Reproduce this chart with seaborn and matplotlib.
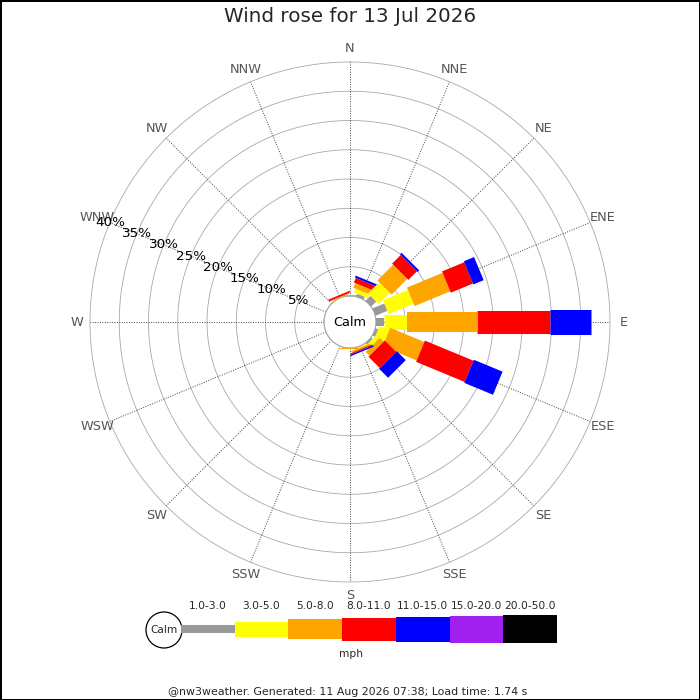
import numpy as np
import matplotlib
matplotlib.use("Agg")
import matplotlib.pyplot as plt
from matplotlib.patches import Circle
import seaborn as sns

# wind rose data: % of time per direction and speed class (mph)
directions = ['N', 'NNE', 'NE', 'ENE', 'E', 'ESE', 'SE', 'SSE',
              'S', 'SSW', 'SW', 'WSW', 'W', 'WNW', 'NW', 'NNW']
speed_bins = ['1.0-3.0', '3.0-5.0', '5.0-8.0', '8.0-11.0', '11.0-15.0', '15.0-20.0', '20.0-50.0']
bin_colors = ['#999999', '#ffff00', '#ffa500', '#ff0000', '#0000ff', '#a020f0', '#000000']
bin_width_px = [8, 15, 20, 23, 25, 27, 28]

pct_1_3 = [0.0, 0.5, 1.2, 2.2, 1.4, 0.5, 0.35, 0.1, 0.0, 0, 0, 0, 0, 0, 0, 0.0]
pct_3_5 = [0.05, 0.7, 2.7, 4.6, 3.9, 1.8, 0.7, 0.15, 0.05, 0, 0, 0, 0, 0, 0, 0.05]
pct_5_8 = [0.2, 0.85, 3.8, 6.6, 12.0, 6.3, 0.95, 0.3, 0.15, 0, 0, 0, 0, 0, 0, 0.15]
pct_8_11 = [0.0, 0.85, 2.1, 4.1, 12.5, 9.0, 2.75, 0.2, 0.0, 0, 0, 0, 0, 0, 0, 0.3]
pct_11_15 = [0.0, 0.35, 0.35, 1.9, 6.9, 5.3, 2.15, 0.25, 0.0, 0, 0, 0, 0, 0, 0, 0.0]
pct_15_20 = [0] * 16
pct_20_50 = [0] * 16
series = [pct_1_3, pct_3_5, pct_5_8, pct_8_11, pct_11_15, pct_15_20, pct_20_50]

ring_pcts = [5, 10, 15, 20, 25, 30, 35, 40]

sns.set_theme(style='white')
plt.rcParams['font.family'] = ['DejaVu Sans']
plt.rcParams['axes.edgecolor'] = '#aaaaaa'
plt.rcParams['axes.linewidth'] = 0.6

fig = plt.figure(figsize=(7, 7), dpi=100, facecolor='white',
                 edgecolor='black', linewidth=2)

# polar rose: centre (350, 322) px, outer ring 260 px, calm hole 26 px
ax = fig.add_axes([90 / 700, 118 / 700, 520 / 700, 520 / 700], projection='polar')
ax.set_theta_zero_location('N')
ax.set_theta_direction(-1)
ax.set_ylim(0, 40)
ax.set_rorigin(-40 * 26 / 234)
ax.grid(False)
ax.set_xticks([])
ax.set_yticks([])
ax.patch.set_edgecolor('none')
for sp in ax.spines.values():
    sp.set_visible(False)

full = np.linspace(0, 2 * np.pi, 400)
ax.plot(full, np.zeros_like(full), color='#aaaaaa', lw=0.7, zorder=2, clip_on=False)
for r in ring_pcts:
    ax.plot(full, np.full_like(full, r), color='#a8a8a8', lw=0.6, zorder=1, clip_on=False)

angles = np.deg2rad(np.arange(16) * 22.5)
for th, name in zip(angles, directions):
    ax.plot([th, th], [0, 40], color='#444444', lw=0.7, ls=(0, (1, 1.5)), zorder=1)
    ax.text(th, 42.3, name, ha='center', va='center', fontsize=9.3, color='#555555')

wnw = np.deg2rad(292.5)
for r in ring_pcts:
    ax.text(wnw, r, f'{r}%', ha='center', va='center', fontsize=9.7, color='black', zorder=6)

for i, th in enumerate(angles):
    start = 0.0
    for vals, col, w in zip(series, bin_colors, bin_width_px):
        v = vals[i]
        if v > 0:
            ax.plot([th, th], [start, start + v], color=col, lw=w * 0.72,
                    solid_capstyle='butt', zorder=4)
        start += v

ax.text(0.5, 0.5, 'Calm', transform=ax.transAxes, ha='center', va='center',
        fontsize=9.3, color='black', zorder=7)

# legend strip, axes units are pixels
lax = fig.add_axes([130 / 700, 35 / 700, 440 / 700, 70 / 700])
lax.set_xlim(130, 570)
lax.set_ylim(665, 595)
lax.axis('off')
lax.add_patch(Circle((164, 630), 18, facecolor='white', edgecolor='black', lw=0.9))
lax.text(164, 630, 'Calm', ha='center', va='center', fontsize=7.6)
seg = 53.7
for k, (lab, col, h) in enumerate(zip(speed_bins, bin_colors, bin_width_px)):
    left = 181 + k * seg
    lax.barh(629, seg, left=left, height=h, color=col, edgecolor='none')
    lax.text(left + seg / 2, 606, lab, ha='center', va='center', fontsize=7.7)
lax.text(351, 654, 'mph', ha='center', va='center', fontsize=7.7)

fig.text(0.5, 1 - 17 / 700, 'Wind rose for 13 Jul 2026', ha='center', va='center', fontsize=14.3)
fig.text(348 / 700, 1 - 692 / 700, '@nw3weather. Generated: 11 Aug 2026 07:38; Load time: 1.74 s',
         ha='center', va='center', fontsize=7.9)

fig.savefig('out.png', dpi=100, facecolor=fig.get_facecolor(), edgecolor=fig.get_edgecolor())
